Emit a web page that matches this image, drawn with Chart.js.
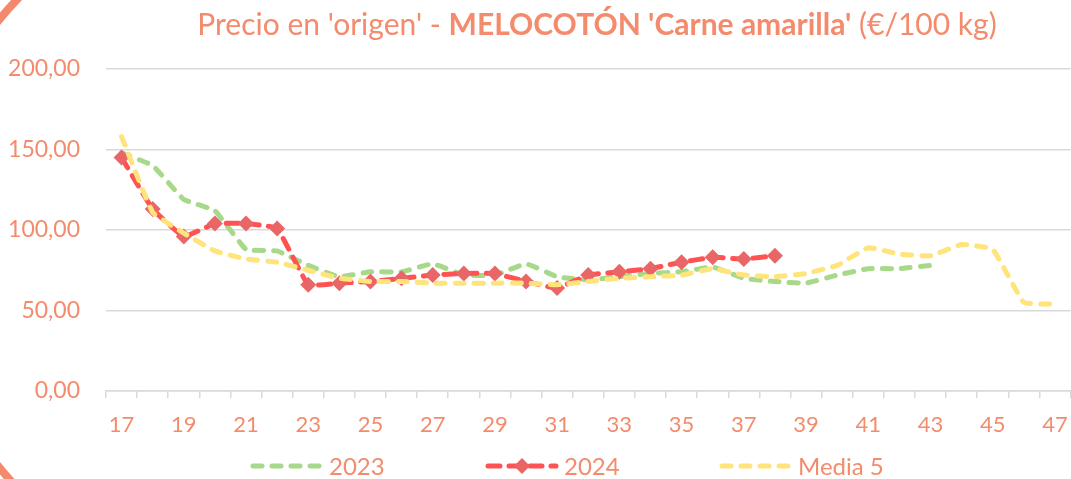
<!DOCTYPE html>
<html><head><meta charset="utf-8">
<script src="https://cdn.jsdelivr.net/npm/chart.js@4.4.1/dist/chart.umd.min.js"></script>
<style>html,body{margin:0;padding:0;background:#fff;overflow:hidden}#wrap{position:relative;width:1071px;height:479px}</style>
</head><body><div id="wrap"><canvas id="c" width="1071" height="479"></canvas></div>
<script>
// ---- data ----
const weeks = ['17','18','19','20','21','22','23','24','25','26','27','28','29','30','31','32','33','34','35','36','37','38','39','40','41','42','43','44','45','46','47'];
const serie2023 = [148,140,119,112,88,87,78,71,74,74,79,72,72,79,71,69,71,73,74,77,70,68,67,72,76,76,78,null,null,null,null];
const serie2024 = [145,113,96,104,104,101,66,67,68,70,72,73,73,68,64,72,74,76,80,83,82,84,null,null,null,null,null,null,null,null,null];
const media5 = [158,111,98,87,82,80,75,70,68,68,67,67,67,67,66,68,70,71,72,76,72,71,73,78,89,85,84,91,88,55,54];
const seriesNames = ['2023','2024','Media 5'];
const yTickValues = [0,50,100,150,200];
const titleParts = ["Precio en 'origen' - ", "MELOCOTÓN 'Carne amarilla'", " (€/100 kg)"];

const TXT = '#F38B6C';
const FONT = 'Lato, "Open Sans", sans-serif';
const colGreen = '#A8D88A', colRed = '#FF5252', colDiamond = '#EA6666', colYellow = '#FFE47C';

const decoPlugin = {
  id: 'deco',
  beforeDraw(chart) {
    const ctx = chart.ctx;
    ctx.save();
    ctx.beginPath();
    ctx.arc(273.5, 243.5, 354, 128 * Math.PI / 180, 236 * Math.PI / 180);
    ctx.strokeStyle = '#F4896B';
    ctx.lineWidth = 8;
    ctx.stroke();
    ctx.restore();
  },
  afterDraw(chart) {
    const ctx = chart.ctx;
    ctx.save();
    // title
    const fonts = ['normal 30px ' + FONT, 'bold 30px ' + FONT, 'normal 30px ' + FONT];
    let total = 0; const widths = [];
    titleParts.forEach((t, i) => { ctx.font = fonts[i]; const w = ctx.measureText(t).width; widths.push(w); total += w; });
    let x = 597 - total / 2;
    ctx.fillStyle = TXT; ctx.textBaseline = 'alphabetic'; ctx.textAlign = 'left';
    titleParts.forEach((t, i) => { ctx.font = fonts[i]; ctx.fillText(t, x, 35); x += widths[i]; });
    // legend
    const starts = [251, 486, 720];
    const ly = 466;
    chart.data.datasets.forEach((ds, i) => {
      const x0 = starts[i];
      ctx.beginPath();
      ctx.setLineDash(ds.borderDash);
      ctx.lineCap = 'round';
      ctx.lineWidth = ds.borderWidth;
      ctx.strokeStyle = ds.borderColor;
      ctx.moveTo(x0 + 2, ly); ctx.lineTo(x0 + 70, ly);
      ctx.stroke();
      ctx.setLineDash([]);
      if (ds.pointRadius > 0) {
        const cx = x0 + 36, r = ds.pointRadius;
        ctx.beginPath();
        ctx.moveTo(cx, ly - r); ctx.lineTo(cx + r, ly); ctx.lineTo(cx, ly + r); ctx.lineTo(cx - r, ly); ctx.closePath();
        ctx.fillStyle = ds.pointBackgroundColor; ctx.fill();
      }
      ctx.font = 'normal 24px ' + FONT;
      ctx.fillStyle = TXT; ctx.textBaseline = 'middle';
      ctx.fillText(ds.label, x0 + 78, ly + 1);
    });
    ctx.restore();
  }
};

new Chart(document.getElementById('c'), {
  type: 'line',
  data: {
    labels: weeks,
    datasets: [
      { label: seriesNames[0], data: serie2023, borderColor: colGreen, borderWidth: 5, borderDash: [9, 10], borderCapStyle: 'round', pointRadius: 0, tension: 0.1, order: 2, spanGaps: false },
      { label: seriesNames[1], data: serie2024, borderColor: colRed, borderWidth: 5, borderDash: [12, 9], borderCapStyle: 'round', pointRadius: 8, pointStyle: 'rectRot', pointBackgroundColor: colDiamond, pointBorderWidth: 0, pointBorderColor: colDiamond, tension: 0.1, order: 1 },
      { label: seriesNames[2], data: media5, borderColor: colYellow, borderWidth: 5, borderDash: [9, 10], borderCapStyle: 'round', pointRadius: 0, tension: 0.1, order: 0 }
    ]
  },
  options: {
    responsive: false,
    animation: false,
    devicePixelRatio: 1,
    layout: { autoPadding: false, padding: { top: 69, left: 0, right: 0.5, bottom: 40 } },
    plugins: { legend: { display: false }, title: { display: false }, tooltip: { enabled: false } },
    elements: { point: { hoverRadius: 8 } },
    scales: {
      x: {
        offset: true,
        grid: { offset: true, drawOnChartArea: false, drawTicks: true, tickLength: 7, color: '#D9D9D9', lineWidth: 1.5 },
        border: { display: true, color: '#D9D9D9', width: 1.5 },
        ticks: { autoSkip: false, maxRotation: 0, minRotation: 0, color: TXT, font: { family: FONT, size: 22 }, padding: 14,
          callback: (v, i) => (i % 2 === 0 ? weeks[i] : '') },
        afterFit: s => { s.height = 48; s.paddingLeft = 0; s.paddingRight = 0; }
      },
      y: {
        min: 0, max: 200,
        afterBuildTicks: s => { s.ticks = yTickValues.map(v => ({ value: v })); },
        grid: { color: '#D9D9D9', lineWidth: 1.5, drawTicks: false },
        border: { display: false },
        ticks: { color: TXT, font: { family: FONT, size: 23 }, padding: 26,
          callback: v => v.toFixed(2).replace('.', ',') },
        afterFit: s => { s.width = 106; }
      }
    }
  },
  plugins: [decoPlugin]
});
</script></body></html>
